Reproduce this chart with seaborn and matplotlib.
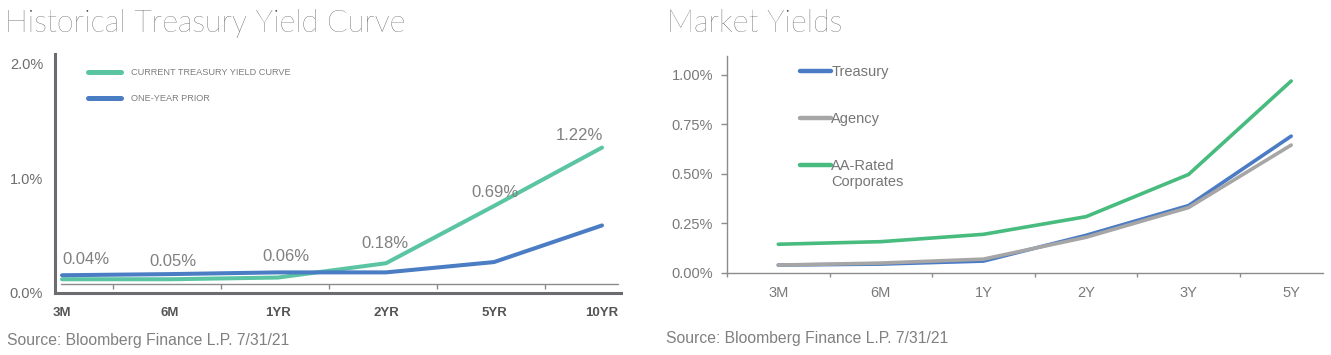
import matplotlib.pyplot as plt
import numpy as np
import pandas as pd
import seaborn as sns

W, H, DPI = 1331, 355, 100

# 左图: 国债收益率曲线
tenors_hist = ["3M", "6M", "1YR", "2YR", "5YR", "10YR"]
current_curve = [0.12, 0.12, 0.135, 0.26, 0.76, 1.27]
prior_year = [0.155, 0.165, 0.18, 0.18, 0.27, 0.59]
current_labels = ["0.04%", "0.05%", "0.06%", "0.18%", "0.69%", "1.22%"]
hist_series = ["CURRENT TREASURY YIELD CURVE", "ONE-YEAR PRIOR"]

# 右图: 市场收益率
tenors_mkt = ["3M", "6M", "1Y", "2Y", "3Y", "5Y"]
treasury = [0.04, 0.045, 0.06, 0.19, 0.34, 0.69]
agency = [0.04, 0.05, 0.07, 0.18, 0.33, 0.645]
aa_corp = [0.145, 0.158, 0.195, 0.284, 0.497, 0.968]
mkt_series = ["Treasury", "Agency", "AA-Rated\nCorporates"]

sns.set_theme(style="white")
plt.rcParams["font.family"] = ["Liberation Sans", "DejaVu Sans"]
TITLE = ["Lato", "Liberation Sans"]


def fx(px):
    return px / W


def fy(py):
    return 1 - py / H


fig = plt.figure(figsize=(W / DPI, H / DPI), dpi=DPI)
fig.patch.set_facecolor("white")

# ---------------- 左图 ----------------
ax1 = fig.add_axes([fx(55), fy(293), (621 - 55) / W, (293 - 54) / H])
df_hist = pd.DataFrame({
    "pos": list(range(len(tenors_hist))) * 2,
    "yield": current_curve + prior_year,
    "series": [hist_series[0]] * 6 + [hist_series[1]] * 6,
})
sns.lineplot(data=df_hist, x="pos", y="yield", hue="series", hue_order=hist_series,
             palette=["#5bc4a3", "#4a7dc4"], linewidth=2.9, sort=False, ax=ax1)
ax1.set_xlim(-0.065, 5.176)
ax1.set_ylim(0, 2.087)
ax1.set_xlabel("")
ax1.set_ylabel("")

for side in ["top", "right"]:
    ax1.spines[side].set_visible(False)
for side in ["left", "bottom"]:
    ax1.spines[side].set_linewidth(2.2)
    ax1.spines[side].set_color("#6c6c70")
    ax1.spines[side].set_capstyle("projecting")

# 细基线 + 刻度
ax1.plot([-0.01, 5.15], [0.0786, 0.0786], color="#8a8a8a", lw=1.0, zorder=1)
ax1.vlines(np.arange(5) + 0.47, 0.035, 0.0786, color="#8a8a8a", lw=1.0, zorder=1)

ax1.set_yticks([0, 1, 2], [f"{v:.1f}%" for v in [0, 1, 2]])
ax1.set_xticks(range(len(tenors_hist)), tenors_hist)
ax1.tick_params(axis="y", length=0, pad=8.6, labelsize=10.5, labelcolor="#6d6d6d")
ax1.tick_params(axis="x", length=0, pad=10, labelsize=9.5, labelcolor="#555555")
for t in ax1.get_xticklabels():
    t.set_fontweight("bold")

label_offsets = [(17, 14), (2, 13), (6, 15), (-1, 14), (1, 10), (-16, 9)]
for i, (lab, val) in enumerate(zip(current_labels, current_curve)):
    ax1.annotate(lab, (i, val), xytext=label_offsets[i], textcoords="offset points",
                 ha="center", va="center", fontsize=12, color="#808080")

old = ax1.get_legend()
h1 = old.legend_handles
old.remove()
leg1 = ax1.legend(h1, hist_series, loc="upper left", bbox_to_anchor=(fx(88), fy(68)),
                  bbox_transform=fig.transFigure, frameon=False, borderpad=0,
                  borderaxespad=0, handlelength=3.6, handletextpad=1.1,
                  labelspacing=1.9, prop={"size": 6.6})
for t in leg1.get_texts():
    t.set_color("#7d7d7d")
for ln in leg1.get_lines():
    ln.set_linewidth(3.6)

# ---------------- 右图 ----------------
ax2 = fig.add_axes([fx(727), fy(273), (1323 - 727) / W, (273 - 56) / H])
df_mkt = pd.DataFrame({
    "pos": list(range(len(tenors_mkt))) * 3,
    "yield": treasury + agency + aa_corp,
    "series": [mkt_series[0]] * 6 + [mkt_series[1]] * 6 + [mkt_series[2]] * 6,
})
sns.lineplot(data=df_mkt, x="pos", y="yield", hue="series", hue_order=mkt_series,
             palette=["#4a7bc4", "#a6a6a6", "#48bb7f"], linewidth=2.6, sort=False, ax=ax2)
ax2.set_xlim(-0.5, 5.31)
ax2.set_ylim(0, 1.094)
ax2.set_xlabel("")
ax2.set_ylabel("")

for side in ["top", "right"]:
    ax2.spines[side].set_visible(False)
for side in ["left", "bottom"]:
    ax2.spines[side].set_linewidth(1.0)
    ax2.spines[side].set_color("#8c8c8c")

yt = [0, 0.25, 0.5, 0.75, 1.0]
ax2.set_yticks(yt, [f"{v:.2f}%" for v in yt])
ax2.set_xticks(range(len(tenors_mkt)), tenors_mkt)
ax2.set_xticks(np.arange(-0.5, 5, 1.0), minor=True)
ax2.tick_params(axis="y", which="major", direction="out", length=4.3, width=1.0,
                color="#8c8c8c", left=True, pad=5.8, labelsize=10.5, labelcolor="#7a7a7a")
ax2.tick_params(axis="x", which="major", length=0, pad=9.5, labelsize=10.5,
                labelcolor="#7a7a7a")
ax2.tick_params(axis="x", which="minor", direction="out", length=3, width=1.0,
                color="#8c8c8c", bottom=True)

old = ax2.get_legend()
h2 = old.legend_handles
old.remove()
leg2 = ax2.legend(h2, mkt_series, loc="upper left", bbox_to_anchor=(fx(800), fy(65)),
                  bbox_transform=fig.transFigure, frameon=False, borderpad=0,
                  borderaxespad=0, handlelength=2.1, handletextpad=0.05,
                  labelspacing=2.25, prop={"size": 10.5})
for t in leg2.get_texts():
    t.set_color("#767676")
for ln in leg2.get_lines():
    ln.set_linewidth(3.2)
# 多行图例: 把线段移到第一行
ln = leg2.get_lines()[2]
ln.set_ydata(np.asarray(ln.get_ydata()) + 6.5)

# ---------------- 标题与来源 ----------------
for x0, title in [(5, "Historical Treasury Yield Curve"), (667, "Market Yields")]:
    fig.text(fx(x0), fy(32), title, family=TITLE, fontweight="light", fontsize=22,
             color="#3a3a34", va="baseline", ha="left")

for x0, y0 in [(7, 345.5), (666, 343)]:
    fig.text(fx(x0), fy(y0), "Source: Bloomberg Finance L.P. 7/31/21",
             fontsize=11.3, color="#808080", va="baseline", ha="left")

fig.savefig("out.png", dpi=DPI, facecolor="white")
